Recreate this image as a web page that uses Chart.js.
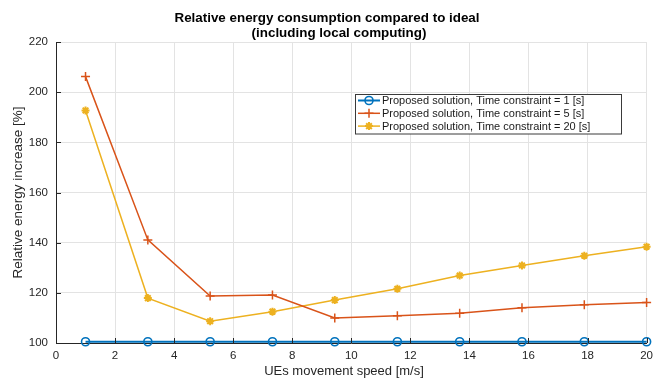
<!DOCTYPE html>
<html>
<head>
<meta charset="utf-8">
<script src="https://cdn.jsdelivr.net/npm/chart.js@4/dist/chart.umd.min.js"></script>
<style>
  html, body { margin: 0; padding: 0; background: #fff; }
  #wrap { width: 659px; height: 381px; }
</style>
</head>
<body>
<div id="wrap"><canvas id="c" width="659" height="381"></canvas></div>
<script>
// UE movement speed (m/s) for each simulation run
const speeds = [1, 3.11, 5.22, 7.33, 9.44, 11.56, 13.67, 15.78, 17.89, 20];

// Relative energy increase [%] per time constraint
const constraint1s  = [100.5, 100.5, 100.5, 100.5, 100.5, 100.5, 100.5, 100.5, 100.5, 100.5];
const constraint5s  = [206.2, 141.1, 118.7, 119.1, 110.0, 110.9, 111.9, 114.1, 115.2, 116.1];
const constraint20s = [192.7, 117.9, 108.7, 112.5, 117.1, 121.6, 126.9, 130.9, 134.8, 138.4];

const seriesLabels = [
  'Proposed solution, Time constraint = 1 [s]',
  'Proposed solution, Time constraint = 5 [s]',
  'Proposed solution, Time constraint = 20 [s]'
];

const xTicks = [0, 2, 4, 6, 8, 10, 12, 14, 16, 18, 20];
const yTicks = [100, 120, 140, 160, 180, 200, 220];

const titleLines = ['Relative energy consumption compared to ideal', '(including local computing)'];
const xTitle = 'UEs movement speed [m/s]';
const yTitle = 'Relative energy increase [%]';

const FONT = "'Liberation Sans', Arial, Helvetica, sans-serif";
const AXIS = '#262626';
const COLORS = ['#0072BD', '#D95319', '#EDB120'];

const toPoints = vals => speeds.map((x, i) => ({ x, y: vals[i] }));

// Title, x label, inward ticks and the boxed legend
const decor = {
  id: 'decor',
  afterDraw(chart) {
    const { ctx, chartArea: a, scales: { x, y } } = chart;
    ctx.save();

    // inward tick marks on the bottom and left axes
    ctx.strokeStyle = AXIS;
    ctx.lineWidth = 1;
    ctx.beginPath();
    xTicks.forEach(v => {
      const px = Math.round(x.getPixelForValue(v)) + 0.5;
      ctx.moveTo(px, a.bottom);
      ctx.lineTo(px, a.bottom - 5);
    });
    yTicks.forEach(v => {
      const py = Math.round(y.getPixelForValue(v)) + 0.5;
      ctx.moveTo(a.left, py);
      ctx.lineTo(a.left + 5, py);
    });
    ctx.stroke();

    // title
    ctx.fillStyle = '#000';
    ctx.font = 'bold 13.4px ' + FONT;
    ctx.textAlign = 'center';
    ctx.textBaseline = 'alphabetic';
    ctx.fillText(titleLines[0], 327, 21.5);
    ctx.fillText(titleLines[1], 339, 36.5);

    // x axis label
    ctx.fillStyle = AXIS;
    ctx.font = '13px ' + FONT;
    ctx.textBaseline = 'middle';
    ctx.fillText(xTitle, 344, 371);

    // legend
    const bx = 355.5, by = 94.5, bw = 266, bh = 39.5;
    ctx.fillStyle = '#fff';
    ctx.fillRect(bx, by, bw, bh);
    ctx.strokeStyle = '#3a3a3a';
    ctx.lineWidth = 1;
    ctx.strokeRect(bx, by, bw, bh);
    ctx.font = '11px ' + FONT;
    ctx.textAlign = 'left';
    chart.data.datasets.forEach((ds, i) => {
      const ly = 100.5 + i * 12.8;
      ctx.strokeStyle = ds.borderColor;
      ctx.lineWidth = ds.borderWidth;
      ctx.beginPath();
      ctx.moveTo(358, ly);
      ctx.lineTo(380, ly);
      ctx.stroke();
      ctx.fillStyle = 'rgba(0,0,0,0)';
      ctx.lineWidth = ds.pointBorderWidth;
      Chart.helpers.drawPoint(ctx, {
        pointStyle: ds.pointStyle, radius: ds.pointRadius, rotation: 0,
        borderWidth: ds.pointBorderWidth
      }, 369, ly);
      ctx.fillStyle = '#1a1a1a';
      ctx.fillText(seriesLabels[i], 382, ly + 0.5);
    });
    ctx.restore();
  }
};

new Chart(document.getElementById('c'), {
  type: 'line',
  data: {
    datasets: [
      {
        label: seriesLabels[0], data: toPoints(constraint1s),
        borderColor: COLORS[0], borderWidth: 2,
        pointStyle: 'circle', pointRadius: 4, pointBorderWidth: 1.6,
        pointBorderColor: COLORS[0], pointBackgroundColor: 'rgba(0,0,0,0)',
        clip: false
      },
      {
        label: seriesLabels[1], data: toPoints(constraint5s),
        borderColor: COLORS[1], borderWidth: 1.5,
        pointStyle: 'cross', pointRadius: 4.5, pointBorderWidth: 1.5,
        pointBorderColor: COLORS[1], pointBackgroundColor: COLORS[1],
        clip: false
      },
      {
        label: seriesLabels[2], data: toPoints(constraint20s),
        borderColor: COLORS[2], borderWidth: 1.5,
        pointStyle: 'star', pointRadius: 4, pointBorderWidth: 2,
        pointBorderColor: COLORS[2], pointBackgroundColor: COLORS[2],
        clip: false
      }
    ]
  },
  options: {
    responsive: false,
    animation: false,
    devicePixelRatio: 1,
    layout: { padding: { top: 42, right: 5, left: 0, bottom: 0 } },
    plugins: { legend: { display: false }, title: { display: false }, tooltip: { enabled: false } },
    elements: { line: { tension: 0 } },
    scales: {
      x: {
        type: 'linear', min: 0, max: 20,
        afterBuildTicks: s => { s.ticks = xTicks.map(v => ({ value: v })); },
        afterFit: s => { s.height = 38; },
        grid: { color: '#e3e3e3', drawTicks: false },
        border: { color: AXIS, width: 1 },
        ticks: { padding: 6, color: AXIS, font: { family: FONT, size: 11.5 }, maxRotation: 0 }
      },
      y: {
        type: 'linear', min: 100, max: 220,
        afterBuildTicks: s => { s.ticks = yTicks.map(v => ({ value: v })); },
        afterFit: s => { s.width = 56; },
        grid: { color: '#e3e3e3', drawTicks: false },
        border: { color: AXIS, width: 1 },
        ticks: { padding: 8, color: AXIS, font: { family: FONT, size: 11.5 } },
        title: {
          display: true, text: yTitle, color: AXIS,
          font: { family: FONT, size: 13.5 }, padding: { top: 10, bottom: 0 }
        }
      }
    }
  },
  plugins: [decor]
});
</script>
</body>
</html>
